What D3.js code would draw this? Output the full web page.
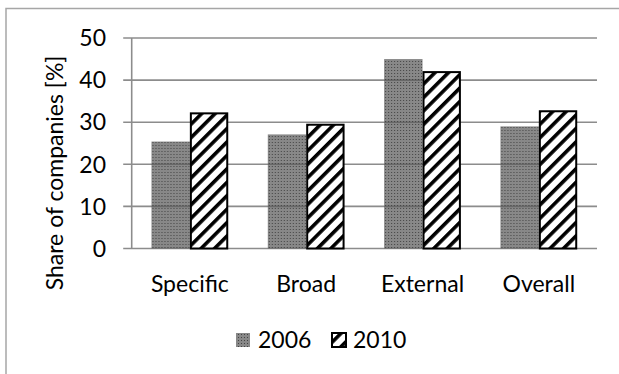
<!DOCTYPE html>
<html>
<head>
<meta charset="utf-8">
<script src="https://cdn.jsdelivr.net/npm/d3@7"></script>
<style>
  body { margin: 0; background: #fff; }
  text { font-family: Lato, "Open Sans", sans-serif; fill: #000; }
</style>
</head>
<body>
<div id="chart"></div>
<script>
// data
const categories = ['Specific', 'Broad', 'External', 'Overall'];
const years = ['2006', '2010'];
const share2006 = [25.4, 27.1, 45.0, 29.0];
const share2010 = [32.1, 29.4, 41.9, 32.6];
const yTicks = [0, 10, 20, 30, 40, 50];

const width = 619, height = 374;
const plotLeft = 131.7, plotRight = 597, plotTop = 38, plotBottom = 248.5;
const fontSize = 23;

const svg = d3.select('#chart').append('svg')
  .attr('width', width)
  .attr('height', height);

// outer frame (only left and top edges are in view)
svg.append('path')
  .attr('d', `M6,${height} V8.5 H${width}`)
  .attr('fill', 'none')
  .attr('stroke', '#a6a6a6')
  .attr('stroke-width', 1.5);

// patterns
const defs = svg.append('defs');
const dots = defs.append('pattern')
  .attr('id', 'dots')
  .attr('patternUnits', 'userSpaceOnUse')
  .attr('width', 3).attr('height', 3);
dots.append('rect').attr('width', 3).attr('height', 3).attr('fill', 'rgba(90,90,90,0.72)');
dots.append('rect').attr('x', 1).attr('y', 1).attr('width', 1).attr('height', 1).attr('fill', 'rgba(50,50,50,0.8)');

const stripes = defs.append('pattern')
  .attr('id', 'stripes')
  .attr('patternUnits', 'userSpaceOnUse')
  .attr('width', 9.5).attr('height', 9.5)
  .attr('patternTransform', 'rotate(-45)');
stripes.append('rect').attr('width', 9.5).attr('height', 9.5).attr('fill', '#fff');
stripes.append('rect').attr('width', 9.5).attr('height', 3.6).attr('fill', '#000');

const x = d3.scaleBand()
  .domain(categories)
  .range([plotLeft, plotRight])
  .paddingInner(0.34)
  .paddingOuter(0.17);

const xs = d3.scaleBand()
  .domain(years)
  .range([0, x.bandwidth()]);

const y = d3.scaleLinear().domain([0, 50]).range([plotBottom, plotTop]);

// gridlines
svg.append('g')
  .selectAll('line')
  .data(yTicks)
  .join('line')
  .attr('x1', plotLeft - 8.5)
  .attr('x2', plotRight)
  .attr('y1', d => y(d))
  .attr('y2', d => y(d))
  .attr('stroke', '#8c8c8c')
  .attr('stroke-width', 1.6);

// y axis line
svg.append('line')
  .attr('x1', plotLeft).attr('x2', plotLeft)
  .attr('y1', plotTop).attr('y2', plotBottom)
  .attr('stroke', '#8c8c8c')
  .attr('stroke-width', 1.6);

// y tick labels
svg.append('g')
  .selectAll('text')
  .data(yTicks)
  .join('text')
  .text(d => d)
  .attr('x', 106)
  .attr('y', d => y(d))
  .attr('dy', '0.36em')
  .attr('text-anchor', 'end')
  .attr('font-size', fontSize);

// y axis title
svg.append('text')
  .text('Share of companies [%]')
  .attr('transform', 'translate(63,173) rotate(-90)')
  .attr('text-anchor', 'middle')
  .attr('font-size', fontSize);

// bars
const groups = svg.append('g')
  .selectAll('g')
  .data(categories)
  .join('g')
  .attr('transform', d => `translate(${x(d)},0)`);

groups.append('rect')
  .attr('x', xs('2006'))
  .attr('width', xs.bandwidth())
  .attr('y', (d, i) => y(share2006[i]))
  .attr('height', (d, i) => y(0) - y(share2006[i]))
  .attr('fill', 'url(#dots)');

groups.append('rect')
  .attr('x', xs('2010') + 1)
  .attr('width', xs.bandwidth() - 2)
  .attr('y', (d, i) => y(share2010[i]))
  .attr('height', (d, i) => y(0) - y(share2010[i]))
  .attr('fill', 'url(#stripes)')
  .attr('stroke', '#000')
  .attr('stroke-width', 2);

// category labels
svg.append('g')
  .selectAll('text')
  .data(categories)
  .join('text')
  .text(d => d)
  .attr('x', d => x(d) + x.bandwidth() / 2)
  .attr('y', 291.5)
  .attr('text-anchor', 'middle')
  .attr('font-size', fontSize);

// legend
const legend = svg.append('g');
const legendX = [236, 331];
legend.selectAll('rect')
  .data(years)
  .join('rect')
  .attr('x', (d, i) => legendX[i] + (i ? 1 : 0))
  .attr('y', 333)
  .attr('width', 14)
  .attr('height', 14)
  .attr('fill', (d, i) => i ? 'url(#stripes)' : 'url(#dots)')
  .attr('stroke', (d, i) => i ? '#000' : 'none')
  .attr('stroke-width', 2);
legend.selectAll('text')
  .data(years)
  .join('text')
  .text(d => d)
  .attr('x', (d, i) => legendX[i] + 22)
  .attr('y', 347.5)
  .attr('font-size', fontSize);
</script>
</body>
</html>
